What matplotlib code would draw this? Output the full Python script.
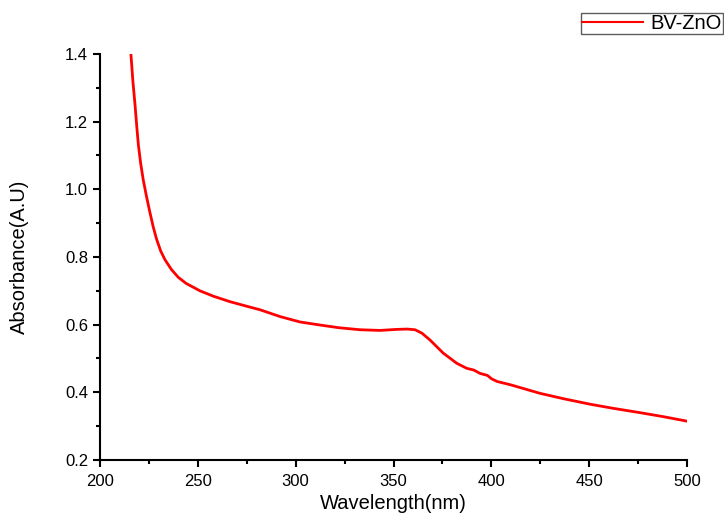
import matplotlib
matplotlib.use("Agg")
import matplotlib.pyplot as plt
from matplotlib.ticker import MultipleLocator

plt.rcParams['font.family'] = ['Liberation Sans', 'DejaVu Sans']

wavelength = [215.8, 216.8, 217.9, 218.8, 219.6, 220.8, 222.1, 223.8, 225.5, 227.2,
              228.9, 231.0, 233.2, 236.5, 240.0, 244.0, 251.1, 258.0, 266.4, 274.0,
              281.8, 292.0, 302.2, 312.4, 322.0, 332.9, 343.1, 351.6, 357.0, 361.0,
              364.5, 368.6, 375.4, 382.3, 387.4, 391.0, 394.2, 398.0, 400.1, 403.0,
              410.0, 424.9, 437.0, 450.4, 462.0, 475.9, 488.0, 499.8]
absorbance = [1.400, 1.320, 1.250, 1.185, 1.132, 1.076, 1.028, 0.978, 0.932, 0.889,
              0.853, 0.818, 0.792, 0.763, 0.740, 0.722, 0.700, 0.684, 0.668, 0.656,
              0.644, 0.624, 0.608, 0.599, 0.591, 0.585, 0.583, 0.586, 0.587, 0.585,
              0.575, 0.555, 0.516, 0.486, 0.471, 0.466, 0.456, 0.450, 0.440, 0.432,
              0.422, 0.397, 0.381, 0.365, 0.353, 0.340, 0.328, 0.315]

fig = plt.figure(figsize=(7.24, 5.17), dpi=100)
ax = fig.add_axes([100/724, 57/517, 587/724, 406/517])
ax.plot(wavelength, absorbance, color='#ff0000', lw=2, label='BV-ZnO')
ax.set_xlim(200, 500)
ax.set_ylim(0.2, 1.4)
ax.xaxis.set_major_locator(MultipleLocator(50))
ax.xaxis.set_minor_locator(MultipleLocator(25))
ax.yaxis.set_major_locator(MultipleLocator(0.2))
ax.yaxis.set_minor_locator(MultipleLocator(0.1))
ax.spines['top'].set_visible(False)
ax.spines['right'].set_visible(False)
for s in ('left', 'bottom'):
    ax.spines[s].set_linewidth(1.5)
ax.tick_params(which='major', direction='out', length=5, width=1.5, labelsize=12)
ax.tick_params(axis='x', which='major', pad=5)
ax.tick_params(which='minor', direction='out', length=3, width=1.5)
ax.set_xlabel('Wavelength(nm)', fontsize=14.5, labelpad=4)
ax.set_ylabel('Absorbance(A.U)', fontsize=14.5, labelpad=26)
ax.yaxis.set_major_formatter(plt.FuncFormatter(lambda v, p: f'{v:.1f}'))
leg = fig.legend(loc='upper right', bbox_to_anchor=(723/724, 1 - 13/517), fontsize=14.5,
                 frameon=True, fancybox=False, edgecolor='#333333', handlelength=3.0,
                 borderpad=0.05, handletextpad=0.4, borderaxespad=0)
leg.get_lines()[0].set_linewidth(1.5)
leg.get_frame().set_linewidth(1.0)
fig.savefig('out.png', dpi=100)
